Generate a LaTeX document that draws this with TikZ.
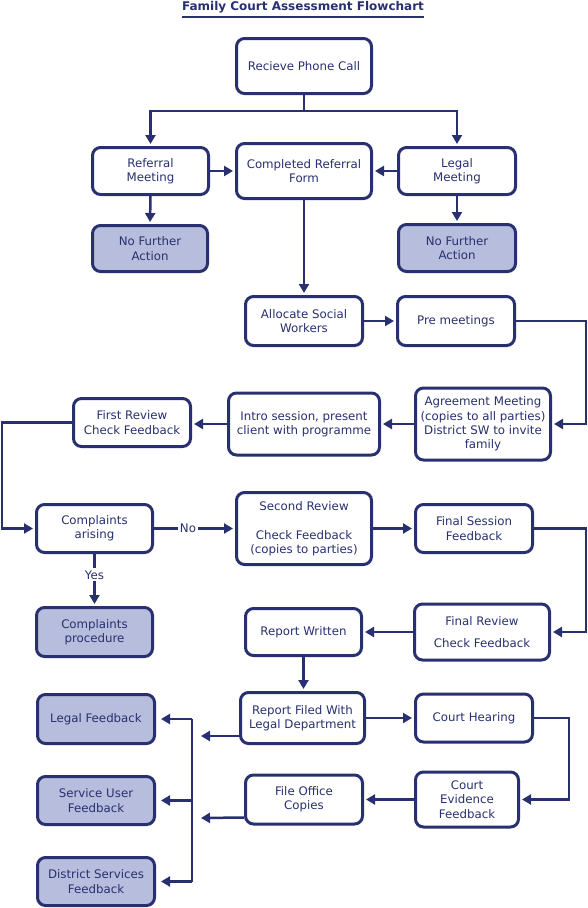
\documentclass[tikz,border=0pt]{standalone}
\usepackage{fontspec}
\setmainfont{DejaVu Sans}
\usetikzlibrary{arrows.meta,calc}
\definecolor{navy}{RGB}{40,48,112}
\definecolor{lav}{RGB}{182,189,221}
\begin{document}
\begin{tikzpicture}[x=1pt,y=-1pt,
 box/.style={draw=navy,line width=3pt,rounded corners=8pt,fill=white,align=center,inner sep=0pt,text=navy,font=\fontsize{11.8}{14.3}\selectfont},
 endbox/.style={box,fill=lav},
 conn/.style={draw=navy,line width=2.5pt},
 arr/.style={conn,-{Triangle[length=9pt,width=10pt]},shorten >=2pt},
 lbl/.style={fill=white,text=navy,inner sep=2pt,font=\fontsize{11.8}{14.3}\selectfont}]
\useasboundingbox (0,0) rectangle (588,908);
% title
\node[text=navy,font=\bfseries\fontsize{12}{14}\selectfont,inner sep=0pt] (title) at (303,7) {Family Court Assessment Flowchart};
\draw[navy,line width=2pt] (182,17) -- (424,17);
% nodes
\node[box,minimum width=135pt,minimum height=55pt] (call) at (304,66) {Recieve Phone Call};
\node[box,minimum width=116pt,minimum height=47pt] (ref) at (150.5,171) {Referral\\Meeting};
\node[box,minimum width=135pt,minimum height=55pt] (form) at (304,171) {Completed Referral\\Form};
\node[box,minimum width=117pt,minimum height=47pt] (legal) at (457,171) {Legal\\Meeting};
\node[endbox,minimum width=115pt,minimum height=46pt] (nfa1) at (150,248.5) {No Further\\Action};
\node[endbox,minimum width=117pt,minimum height=47pt] (nfa2) at (457,248) {No Further\\Action};
\node[box,minimum width=117pt,minimum height=49pt] (alloc) at (304,321) {Allocate Social\\Workers};
\node[box,minimum width=117pt,minimum height=49pt] (pre) at (456,321) {Pre meetings};
\node[box,minimum width=135pt,minimum height=72pt] (agree) at (483,424) {Agreement Meeting\\(copies to all parties)\\District SW to invite\\family};
\node[box,minimum width=151pt,minimum height=62pt] (intro) at (304,424) {Intro session, present\\client with programme};
\node[box,minimum width=117pt,minimum height=48pt] (first) at (132,422.5) {First Review\\Check Feedback};
\node[box,minimum width=116pt,minimum height=48pt] (compl) at (94.5,528.5) {Complaints\\arising};
\node[box,minimum width=135pt,minimum height=72pt] (second) at (304,528.5) {Second Review\\[14.7pt]Check Feedback\\(copies to parties)};
\node[box,minimum width=117pt,minimum height=48pt] (fsess) at (474,528.5) {Final Session\\Feedback};
\node[box,minimum width=135pt,minimum height=56pt] (freview) at (482,632) {Final Review\\[7.3pt]Check Feedback};
\node[box,minimum width=116pt,minimum height=47pt] (report) at (303.5,632) {Report Written};
\node[endbox,minimum width=116pt,minimum height=49pt] (cproc) at (94.5,632) {Complaints\\procedure};
\node[box,minimum width=124pt,minimum height=51pt] (filed) at (302.5,718) {Report Filed With\\Legal Department};
\node[box,minimum width=117pt,minimum height=48pt] (court) at (474,718) {Court Hearing};
\node[box,minimum width=103pt,minimum height=55pt] (evid) at (467,799.5) {Court\\Evidence\\Feedback};
\node[box,minimum width=117pt,minimum height=49pt] (fileoff) at (304,799.5) {File Office\\Copies};
\node[endbox,minimum width=117pt,minimum height=49pt] (lfb) at (96,719) {Legal Feedback};
\node[endbox,minimum width=117pt,minimum height=48pt] (sufb) at (96,800.5) {Service User\\Feedback};
\node[endbox,minimum width=117pt,minimum height=48pt] (dsfb) at (96,881.5) {District Services\\Feedback};
% coordinates
\coordinate (split) at (304,111);
\coordinate (preR) at (586,321);
\coordinate (firstL) at (2,422.5);
\coordinate (fsessR) at (586,528.5);
\coordinate (courtR) at (569,718);
\coordinate (filedEnd) at (201,736);
\coordinate (fileoffEnd) at (201,818);
\coordinate (c1) at (192,719);
\coordinate (c2) at (192,800.5);
\coordinate (c3) at (192,881.5);
% connectors
\draw[conn] (call.south) -- (split);
\draw[arr] (split) -| (ref.north);
\draw[arr] (split) -| (legal.north);
\draw[arr] (ref.east) -- (form.west);
\draw[arr] (legal.west) -- (form.east);
\draw[arr] (ref.south) -- (nfa1.north);
\draw[arr] (legal.south) -- (nfa2.north);
\draw[arr] (form.south) -- (alloc.north);
\draw[arr] (alloc.east) -- (pre.west);
\draw[arr] (pre.east) -- (preR) |- (agree.east);
\draw[arr] (agree.west) -- (intro.east);
\draw[arr] (intro.west) -- (intro.west -| first.east);
\draw[arr] (first.west) -- (firstL) |- (compl.west);
\draw[arr] (compl.east) -- node[lbl,pos=0.42]{No} (second.west);
\draw[arr] (compl.south) -- node[lbl,pos=0.4]{Yes} (cproc.north);
\draw[arr] (second.east) -- (fsess.west);
\draw[arr] (fsess.east) -- (fsessR) |- (freview.east);
\draw[arr] (freview.west) -- (report.east);
\draw[arr] (report.south) -- (report.south |- filed.north);
\draw[arr] (filed.east) -- (court.west);
\draw[arr] (court.east) -- (courtR) |- (evid.east);
\draw[arr] (evid.west) -- (fileoff.east);
\draw[arr,shorten >=0pt] ($(filed.west)+(0,18)$) -- (filedEnd);
\draw[arr,shorten >=0pt] ($(fileoff.west)+(0,18)$) -- (fileoffEnd);
\draw[conn] (c1) -- (c3);
\draw[arr,shorten >=5pt] (c1) -- (lfb.east);
\draw[arr,shorten >=5pt] (c2) -- (sufb.east);
\draw[arr,shorten >=5pt] (c3) -- (dsfb.east);
\end{tikzpicture}
\end{document}
